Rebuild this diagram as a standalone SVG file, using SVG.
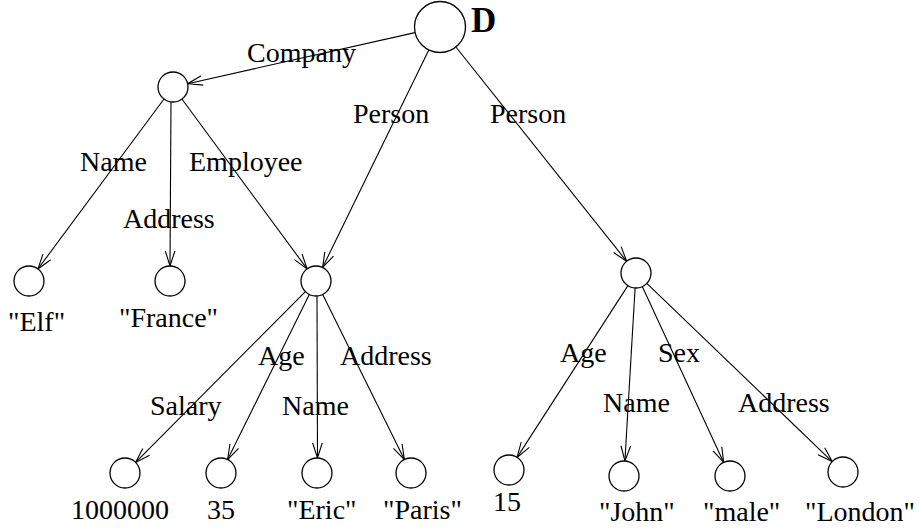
<svg xmlns="http://www.w3.org/2000/svg" width="919" height="529" viewBox="0 0 919 529">
<style>
  .n { fill: #fff; stroke: #000; stroke-width: 1.3; }
  .e { stroke: #000; stroke-width: 1.1; fill: none; marker-end: url(#arr); }
  text { font-family: "Liberation Serif", "Times New Roman", serif; font-size: 28px; fill: #000; }
  .b { font-weight: bold; font-size: 35px; }
</style>
<defs>
  <marker id="arr" markerUnits="userSpaceOnUse" markerWidth="20" markerHeight="14" viewBox="-16 -7 18 14" refX="0" refY="0" orient="auto">
    <path d="M-15,-4.8 L0,0 L-15,4.8" fill="none" stroke="#000" stroke-width="1.1"/>
  </marker>
</defs>
<rect width="919" height="529" fill="#fff"/>
<g id="connectors">
  <line class="e" x1="415" y1="32.6" x2="187.6" y2="83.7"/>
  <line class="e" x1="428.8" y1="49.9" x2="322.6" y2="267.5"/>
  <line class="e" x1="455.9" y1="47" x2="626.7" y2="261.3"/>
  <line class="e" x1="164" y1="99" x2="37.9" y2="269"/>
  <line class="e" x1="171" y1="102" x2="170" y2="266"/>
  <line class="e" x1="181.9" y1="99" x2="307.1" y2="268.9"/>
  <line class="e" x1="305.4" y1="291.6" x2="135.6" y2="462.4"/>
  <line class="e" x1="309.3" y1="294.4" x2="227.6" y2="459.6"/>
  <line class="e" x1="317" y1="296" x2="317.5" y2="458"/>
  <line class="e" x1="322.7" y1="294.4" x2="404.4" y2="459.6"/>
  <line class="e" x1="627.9" y1="285.6" x2="517.1" y2="457.4"/>
  <line class="e" x1="635.1" y1="288" x2="624.9" y2="461"/>
  <line class="e" x1="642.3" y1="286.6" x2="723.7" y2="462.4"/>
  <line class="e" x1="646.8" y1="283.4" x2="832.2" y2="461.6"/>
</g>
<g id="nD"><circle class="n" cx="440" cy="27" r="25.5"/><text class="b" x="471" y="32">D</text></g>
<g id="nCompany"><circle class="n" cx="173" cy="87" r="15"/></g>
<g id="nElf"><circle class="n" cx="29" cy="281" r="15"/><text x="8" y="331">"Elf"</text></g>
<g id="nFrance"><circle class="n" cx="170" cy="281" r="15"/><text x="119" y="327">"France"</text></g>
<g id="nEmp"><circle class="n" cx="316" cy="281" r="15"/></g>
<g id="nPerson2"><circle class="n" cx="636" cy="273" r="15"/></g>
<g id="n1000000"><circle class="n" cx="125" cy="473" r="15"/><text x="71" y="519">1000000</text></g>
<g id="n35"><circle class="n" cx="221" cy="473" r="15"/><text x="207" y="519">35</text></g>
<g id="nEric"><circle class="n" cx="317" cy="473" r="15"/><text x="287" y="519">"Eric"</text></g>
<g id="nParis"><circle class="n" cx="411" cy="473" r="15"/><text x="383" y="519">"Paris"</text></g>
<g id="n15"><circle class="n" cx="509" cy="470" r="15"/><text x="493" y="511">15</text></g>
<g id="nJohn"><circle class="n" cx="624" cy="476" r="15"/><text x="599" y="521">"John"</text></g>
<g id="nMale"><circle class="n" cx="730" cy="476" r="15"/><text x="703" y="521">"male"</text></g>
<g id="nLondon"><circle class="n" cx="843" cy="472" r="15"/><text x="805" y="521">"London"</text></g>
<g id="labels">
  <text x="247" y="62">Company</text>
  <text x="353" y="123">Person</text>
  <text x="490" y="123">Person</text>
  <text x="80" y="171">Name</text>
  <text x="189" y="171">Employee</text>
  <text x="123" y="228">Address</text>
  <text x="258" y="365">Age</text>
  <text x="340" y="365">Address</text>
  <text x="150" y="415">Salary</text>
  <text x="282" y="415">Name</text>
  <text x="560" y="362">Age</text>
  <text x="658" y="362">Sex</text>
  <text x="603" y="412">Name</text>
  <text x="738" y="412">Address</text>
</g>
</svg>
